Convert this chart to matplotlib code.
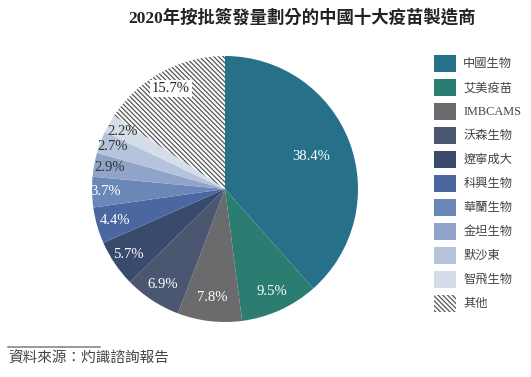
import numpy as np
import matplotlib
matplotlib.use("Agg")
import matplotlib.pyplot as plt
from matplotlib.patches import Patch

plt.rcParams['font.family'] = ['Liberation Serif', 'Noto Sans CJK TC']
plt.rcParams['hatch.linewidth'] = 0.9

# data
names = ["中國生物", "艾美疫苗", "IMBCAMS", "沃森生物", "遼寧成大",
         "科興生物", "華蘭生物", "金坦生物", "默沙東", "智飛生物", "其他"]
shares = [38.4, 9.5, 7.8, 6.9, 5.7, 4.4, 3.7, 2.9, 2.7, 2.2, 15.7]
colors = ["#26708a", "#2a7d70", "#6b6b6d", "#4b5771", "#3a4a6c",
          "#4a67a0", "#6a87b8", "#8fa4c8", "#b5c4dc", "#d5dde9", "#ffffff"]
label_colors = ["white"] * 7 + ["#333333"] * 3 + ["#222222"]
label_radius = [0.69, 0.85, 0.82, 0.86, 0.88, 0.86, 0.9, 0.88, 0.9, 0.88, 0.86]
hatch = "\\" * 7

fig = plt.figure(figsize=(5.31, 3.77), dpi=100)
ax = fig.add_axes([92 / 531, 55 / 377, 266 / 531, 266 / 377])

wedges, _ = ax.pie(shares, colors=colors, startangle=90, counterclock=False,
                   radius=1.0, wedgeprops=dict(linewidth=0))
wedges[-1].set_hatch(hatch)
wedges[-1].set_edgecolor("#555555")
wedges[-1].set_linewidth(0)
ax.set_xlim(-1, 1)
ax.set_ylim(-1, 1)
ax.set_aspect("equal")

for w, s, c, r in zip(wedges, shares, label_colors, label_radius):
    ang = np.deg2rad((w.theta1 + w.theta2) / 2)
    x, y = r * np.cos(ang), r * np.sin(ang)
    kw = {}
    if s == 15.7:
        kw["bbox"] = dict(boxstyle="square,pad=0.15", fc="white", ec="none")
    ax.text(x, y, f"{s}%", color=c, fontsize=10.5, ha="center", va="center", **kw)

handles = []
for n, c in zip(names, colors):
    if n == "其他":
        handles.append(Patch(facecolor="white", edgecolor="#555555", hatch=hatch, linewidth=0, label=n))
    else:
        handles.append(Patch(facecolor=c, edgecolor="none", label=n))
fig.legend(handles=handles, loc="upper left", bbox_to_anchor=(429 / 531, 1 - 50 / 377),
           frameon=False, fontsize=8.8, handlelength=1.8, handleheight=1.75,
           labelspacing=0.58, handletextpad=0.6, borderaxespad=0, labelcolor="#444444")

fig.text(302 / 531, 1 - 18 / 377, "2020年按批簽發量劃分的中國十大疫苗製造商",
         ha="center", va="center", fontsize=12.5, fontweight="bold", color="#222222")

fig.add_artist(plt.Line2D([8 / 531, 100 / 531], [1 - 347 / 377, 1 - 347 / 377],
                          color="#888888", linewidth=1.2))
fig.text(8 / 531, 1 - 359 / 377, "資料來源：灼識諮詢報告", ha="left", va="center",
         fontsize=10.5, style="italic", color="#444444")

fig.savefig("out.png", dpi=100)
